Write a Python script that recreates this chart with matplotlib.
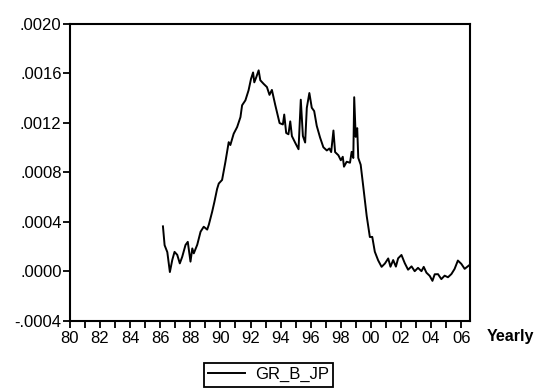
import matplotlib
matplotlib.use("Agg")
import matplotlib.pyplot as plt
from matplotlib.ticker import FuncFormatter, MultipleLocator
import numpy as np

# GR_B_JP series, decimal year vs value
years = [
    1986.18, 1986.29, 1986.47, 1986.64, 1986.80, 1986.95, 1987.13, 1987.30,
    1987.46, 1987.68, 1987.83, 1988.01, 1988.13, 1988.23, 1988.46, 1988.68,
    1988.89, 1989.12, 1989.23, 1989.45, 1989.60, 1989.78, 1989.89, 1990.11,
    1990.33, 1990.55, 1990.66, 1990.88, 1991.11, 1991.33, 1991.44, 1991.66,
    1991.87, 1992.03, 1992.17, 1992.25, 1992.38, 1992.54, 1992.65, 1992.87,
    1993.09, 1993.26, 1993.42, 1993.64, 1993.75, 1993.93, 1994.15, 1994.24,
    1994.37, 1994.52, 1994.64, 1994.75, 1994.97, 1995.19, 1995.34, 1995.48,
    1995.63, 1995.74, 1995.91, 1996.07, 1996.23, 1996.40, 1996.62, 1996.84,
    1997.07, 1997.24, 1997.36, 1997.51, 1997.62, 1997.84, 1998.00, 1998.13,
    1998.21, 1998.39, 1998.61, 1998.72, 1998.83, 1998.89, 1998.99, 1999.09,
    1999.16, 1999.32, 1999.49, 1999.72, 1999.93, 2000.09, 2000.26, 2000.48,
    2000.71, 2000.93, 2001.15, 2001.30, 2001.48, 2001.66, 2001.81, 2002.03,
    2002.25, 2002.47, 2002.70, 2002.91, 2003.13, 2003.36, 2003.51, 2003.69,
    2003.91, 2004.09, 2004.24, 2004.46, 2004.68, 2004.90, 2005.12, 2005.35,
    2005.56, 2005.78, 2006.01, 2006.23, 2006.52,
]
gr_b_jp = [
    0.000364, 0.000212, 0.000156, -0.000005, 0.000093, 0.000158, 0.000134, 0.000065,
    0.000118, 0.000214, 0.000239, 0.000079, 0.000186, 0.000146, 0.000216, 0.000321,
    0.000361, 0.000338, 0.000378, 0.000482, 0.000562, 0.000667, 0.000710, 0.000739,
    0.000884, 0.001044, 0.001021, 0.001112, 0.001166, 0.001246, 0.001342, 0.001382,
    0.001463, 0.001554, 0.001607, 0.001527, 0.001568, 0.001624, 0.001544, 0.001515,
    0.001489, 0.001426, 0.001466, 0.001346, 0.001290, 0.001198, 0.001187, 0.001267,
    0.001118, 0.001108, 0.001212, 0.001093, 0.001039, 0.000987, 0.001387, 0.001094,
    0.001041, 0.001321, 0.001441, 0.001322, 0.001295, 0.001176, 0.001082, 0.001003,
    0.000977, 0.000993, 0.000964, 0.001138, 0.000964, 0.000938, 0.000898, 0.000926,
    0.000846, 0.000886, 0.000878, 0.000966, 0.000916, 0.001407, 0.001087, 0.001157,
    0.000917, 0.000862, 0.000688, 0.000448, 0.000278, 0.000279, 0.000159, 0.000090,
    0.000037, 0.000064, 0.000105, 0.000038, 0.000092, 0.000039, 0.000106, 0.000133,
    0.000067, 0.000014, 0.000041, 0.000002, 0.000029, 0.000002, 0.000037, -0.000010,
    -0.000036, -0.000076, -0.000023, -0.000022, -0.000062, -0.000034, -0.000047, -0.000021,
    0.000020, 0.000088, 0.000061, 0.000021, 0.000049,
]
y_ticks = [-0.0004, 0.0, 0.0004, 0.0008, 0.0012, 0.0016, 0.0020]

plt.rcParams['font.family'] = ['Liberation Sans', 'DejaVu Sans']

fig = plt.figure(figsize=(5.34, 3.9), dpi=100)
ax = fig.add_axes([0.131, 0.177, 0.749, 0.762])

ax.plot(years, gr_b_jp, color='black', linewidth=1.4, label='GR_B_JP')

ax.set_xlim(1980, 2006.58)
ax.set_ylim(-0.0004, 0.0020)

ax.xaxis.set_major_locator(MultipleLocator(2))
ax.xaxis.set_minor_locator(MultipleLocator(1))
ax.xaxis.set_major_formatter(FuncFormatter(lambda v, p: "%02d" % (int(round(v)) % 100)))
ax.set_yticks(y_ticks)


def short_fmt(v, p):
    s = "%.4f" % v
    if s.startswith("-0"):
        return "-" + s[2:]
    if s.startswith("0"):
        return s[1:]
    return s


ax.yaxis.set_major_formatter(FuncFormatter(short_fmt))

ax.tick_params(axis='both', which='both', direction='out', length=5, width=1.3,
               labelsize=12, top=False, right=False, colors='black')
ax.tick_params(axis='x', pad=2)
ax.tick_params(axis='y', pad=1)
for sp in ax.spines.values():
    sp.set_linewidth(1.5)

fig.text(0.912, 0.137, 'Yearly', fontsize=11.5, fontweight='bold', ha='left', va='center')

leg = ax.legend(loc='upper center', bbox_to_anchor=(0.503, 0.069),
                bbox_transform=fig.transFigure, fontsize=12, handlelength=2.2,
                fancybox=False, framealpha=1, edgecolor='black', borderpad=0.25,
                borderaxespad=0, handletextpad=0.6)
leg.get_frame().set_linewidth(1.3)

fig.savefig('out.png', dpi=100)
